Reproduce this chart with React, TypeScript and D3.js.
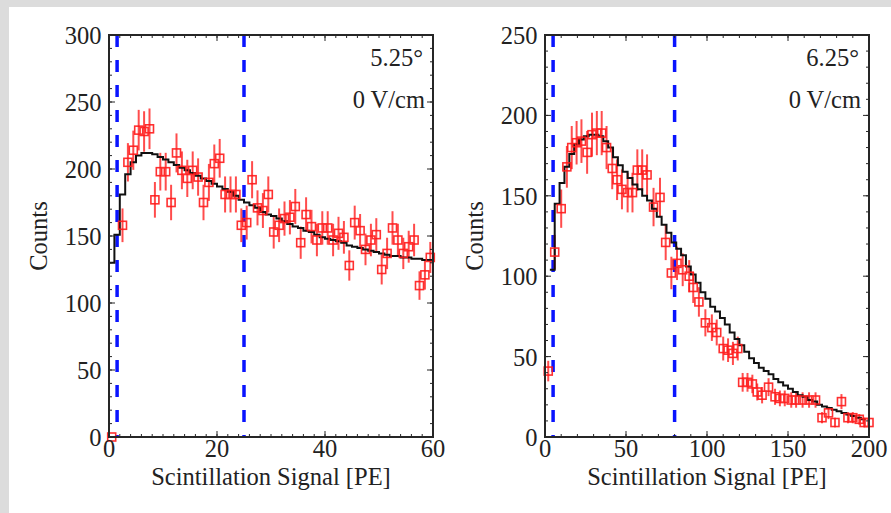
import React from "react";
import * as d3 from "d3";

// ---------- Left panel (5.25°) ----------
const leftX = [0.5, 2.5, 3.5, 4.5, 5.5, 6.5, 7.5, 8.5, 9.5, 10.5, 11.5, 12.5, 13.5, 14.5, 15.5, 16.5, 17.5, 18.5, 19.5, 20.5,
  21.5, 22.5, 23.5, 24.5, 25.5, 26.5, 27.5, 28.5, 29.5, 30.5, 31.5, 32.5, 33.5, 34.5, 35.5, 36.5, 37.5, 38.5, 39.5, 40.5,
  41.5, 42.5, 43.5, 44.5, 45.5, 46.5, 47.5, 48.5, 49.5, 50.5, 51.5, 52.5, 53.5, 54.5, 55.5, 56.5, 57.5, 58.5, 59.5];
const leftY = [0, 158, 205, 214, 229, 228, 230, 177, 198, 198, 175, 212, 199, 193, 199, 194, 175, 190, 204, 208,
  181, 181, 181, 158, 160, 192, 171, 169, 181, 153, 158, 163, 164, 172, 145, 166, 157, 147, 156, 156,
  147, 152, 149, 128, 160, 154, 140, 147, 151, 125, 137, 156, 147, 137, 142, 147, 113, 121, 134];
const leftFitStart = 0;
const leftFitWidth = 1;
const leftFit = [130, 151, 181, 196, 205, 210, 212, 212, 211, 209, 207, 205, 203, 201, 199, 197, 195, 193, 191, 189,
  187, 185, 183, 180, 177, 175, 173, 171, 168, 166, 165, 163, 161, 159, 157, 156, 154, 153, 151, 149,
  148, 147, 146, 145, 143, 142, 141, 140, 139, 138, 137, 136, 135, 135, 134, 134, 133, 133, 132, 132];
const leftXTicks = [0, 20, 40, 60];
const leftYTicks = [0, 50, 100, 150, 200, 250, 300];
const leftCuts = [1.5, 25];
const leftLabels = ["5.25°", "0 V/cm"];

// ---------- Right panel (6.25°) ----------
const rightX = [2, 6, 10, 13.5, 16.5, 19.5, 22.5, 26, 29, 32, 35, 38, 41.5, 44.5, 47.5, 51, 54, 57, 60, 63,
  67, 71, 74.5, 78, 81.5, 85, 89, 91.5, 95, 99, 103, 106, 110, 113, 116, 119, 122, 125, 128, 131,
  134, 138, 142, 145, 148, 152, 155, 159, 163, 167, 171, 175, 179, 183, 187, 190, 194, 197, 200];
const rightY = [41, 115, 142, 168, 180, 183, 184, 177, 188, 189, 189, 180, 167, 160, 154, 152, 152, 166, 166, 163,
  143, 149, 121, 102, 108, 104, 100, 93, 84, 71, 68, 65, 55, 54, 52, 55, 34, 34, 33, 28,
  26, 31, 25, 24, 24, 23, 23, 23, 23, 23, 12, 15, 9, 22, 12, 12, 11, 9, 9];
const rightFitStart = 3;
const rightFitWidth = 3;
const rightFit = [104, 145, 158, 168, 176, 182, 185, 187, 188, 188, 187, 184, 180, 174, 169, 165, 161, 157, 154, 150,
  147, 142, 137, 132, 127, 121, 117, 113, 106, 101, 96, 90, 86, 81, 78, 74, 70, 65, 61, 57,
  53, 49, 46, 43, 41, 39, 36, 34, 32, 30, 28, 26, 25, 23, 22, 20, 19, 18, 17, 16, 15, 14, 13, 12, 11];
const rightXTicks = [0, 50, 100, 150, 200];
const rightYTicks = [0, 50, 100, 150, 200, 250];
const rightCuts = [5, 80];
const rightLabels = ["6.25°", "0 V/cm"];

const FONT = "Liberation Serif, Times New Roman, serif";

type PanelProps = {
  left: number; right: number; top: number; bottom: number;
  xMax: number; yMax: number;
  xs: number[]; ys: number[];
  fitStart: number; fitWidth: number; fit: number[];
  xTicks: number[]; yTicks: number[]; xMinor: number; yMinor: number;
  cuts: number[]; labels: string[];
};

function Panel(p: PanelProps) {
  const x = d3.scaleLinear().domain([0, p.xMax]).range([p.left, p.right]);
  const y = d3.scaleLinear().domain([0, p.yMax]).range([p.bottom, p.top]);
  const minorX = d3.range(0, p.xMax + 1e-9, p.xMinor);
  const minorY = d3.range(0, p.yMax + 1e-9, p.yMinor);
  const fitPts: [number, number][] = p.fit.map((v, i) => [p.fitStart + i * p.fitWidth, v]);
  fitPts.push([Math.min(p.xMax, p.fitStart + p.fit.length * p.fitWidth), p.fit[p.fit.length - 1]]);
  const line = d3.line<[number, number]>().x(d => x(d[0])).y(d => y(d[1])).curve(d3.curveStepAfter);
  const axisColor = "#262626";
  const sq = 8;
  const textStyle = { fontFamily: FONT, fontSize: 24.5 };
  return (
    <g>
      {p.cuts.map((c, i) => (
        <line key={"c" + i} x1={x(c)} x2={x(c)} y1={p.top} y2={p.bottom} stroke="#0a14ff" strokeWidth={3.5} strokeDasharray="12,13" />
      ))}
      <g stroke="#ff2020" strokeWidth={2} opacity={0.8}>
        {p.xs.map((xv, i) => {
          const e = Math.sqrt(p.ys[i]);
          return <line key={"e" + i} x1={x(xv)} x2={x(xv)} y1={y(Math.max(0, p.ys[i] - e))} y2={y(p.ys[i] + e)} />;
        })}
      </g>
      <path d={line(fitPts) || ""} fill="none" stroke="#111" strokeWidth={2} />
      <g stroke="#ff1a1a" strokeWidth={1.6} fill="none" opacity={0.9}>
        {p.xs.map((xv, i) => (
          <rect key={"m" + i} x={x(xv) - sq / 2} y={y(p.ys[i]) - sq / 2} width={sq} height={sq} />
        ))}
      </g>
      <g stroke={axisColor} strokeWidth={1}>
        {minorX.map((t, i) => (
          <g key={"mx" + i}>
            <line x1={x(t)} x2={x(t)} y1={p.bottom} y2={p.bottom - 3} />
            <line x1={x(t)} x2={x(t)} y1={p.top} y2={p.top + 3} />
          </g>
        ))}
        {minorY.map((t, i) => (
          <g key={"my" + i}>
            <line x1={p.left} x2={p.left + 3} y1={y(t)} y2={y(t)} />
            <line x1={p.right} x2={p.right - 3} y1={y(t)} y2={y(t)} />
          </g>
        ))}
        {p.xTicks.map((t, i) => (
          <g key={"tx" + i}>
            <line x1={x(t)} x2={x(t)} y1={p.bottom} y2={p.bottom - 6} />
            <line x1={x(t)} x2={x(t)} y1={p.top} y2={p.top + 6} />
          </g>
        ))}
        {p.yTicks.map((t, i) => (
          <g key={"ty" + i}>
            <line x1={p.left} x2={p.left + 6} y1={y(t)} y2={y(t)} />
            <line x1={p.right} x2={p.right - 6} y1={y(t)} y2={y(t)} />
          </g>
        ))}
      </g>
      <rect x={p.left} y={p.top} width={p.right - p.left} height={p.bottom - p.top} fill="none" stroke={axisColor} strokeWidth={2} />
      <g fill="#222" style={textStyle}>
        {p.xTicks.map((t, i) => (
          <text key={"lx" + i} x={x(t)} y={p.bottom + 20} textAnchor="middle" style={textStyle}>{t}</text>
        ))}
        {p.yTicks.map((t, i) => (
          <text key={"ly" + i} x={p.left - 7.5} y={y(t) + 9} textAnchor="end" style={textStyle}>{t}</text>
        ))}
        <text x={(p.left + p.right) / 2} y={p.bottom + 48} textAnchor="middle" style={textStyle}>Scintillation Signal [PE]</text>
        <text transform={`translate(${p.left - 62},${(p.top + p.bottom) / 2}) rotate(-90)`} textAnchor="middle" style={textStyle}>Counts</text>
        <text x={p.right - 10} y={p.top + 31} textAnchor="end" style={textStyle}>{p.labels[0]}</text>
        <text x={p.right - 8} y={p.top + 73} textAnchor="end" style={textStyle}>{p.labels[1]}</text>
      </g>
    </g>
  );
}

export default function App() {
  const W = 891, H = 513;
  const top = 35, bottom = 437;
  return (
    <svg width={W} height={H} style={{ position: "absolute", left: 0, top: 0 }}>
      <rect x={0} y={0} width={W} height={H} fill="#dcdcdc" />
      <rect x={9} y={7} width={W - 9} height={H - 7} fill="#ffffff" />
      <Panel left={109} right={433} top={top} bottom={bottom} xMax={60} yMax={300}
        xs={leftX} ys={leftY} fitStart={leftFitStart} fitWidth={leftFitWidth} fit={leftFit}
        xTicks={leftXTicks} yTicks={leftYTicks} xMinor={2} yMinor={10} cuts={leftCuts} labels={leftLabels} />
      <Panel left={545} right={869} top={top} bottom={bottom} xMax={200} yMax={250}
        xs={rightX} ys={rightY} fitStart={rightFitStart} fitWidth={rightFitWidth} fit={rightFit}
        xTicks={rightXTicks} yTicks={rightYTicks} xMinor={10} yMinor={10} cuts={rightCuts} labels={rightLabels} />
    </svg>
  );
}
